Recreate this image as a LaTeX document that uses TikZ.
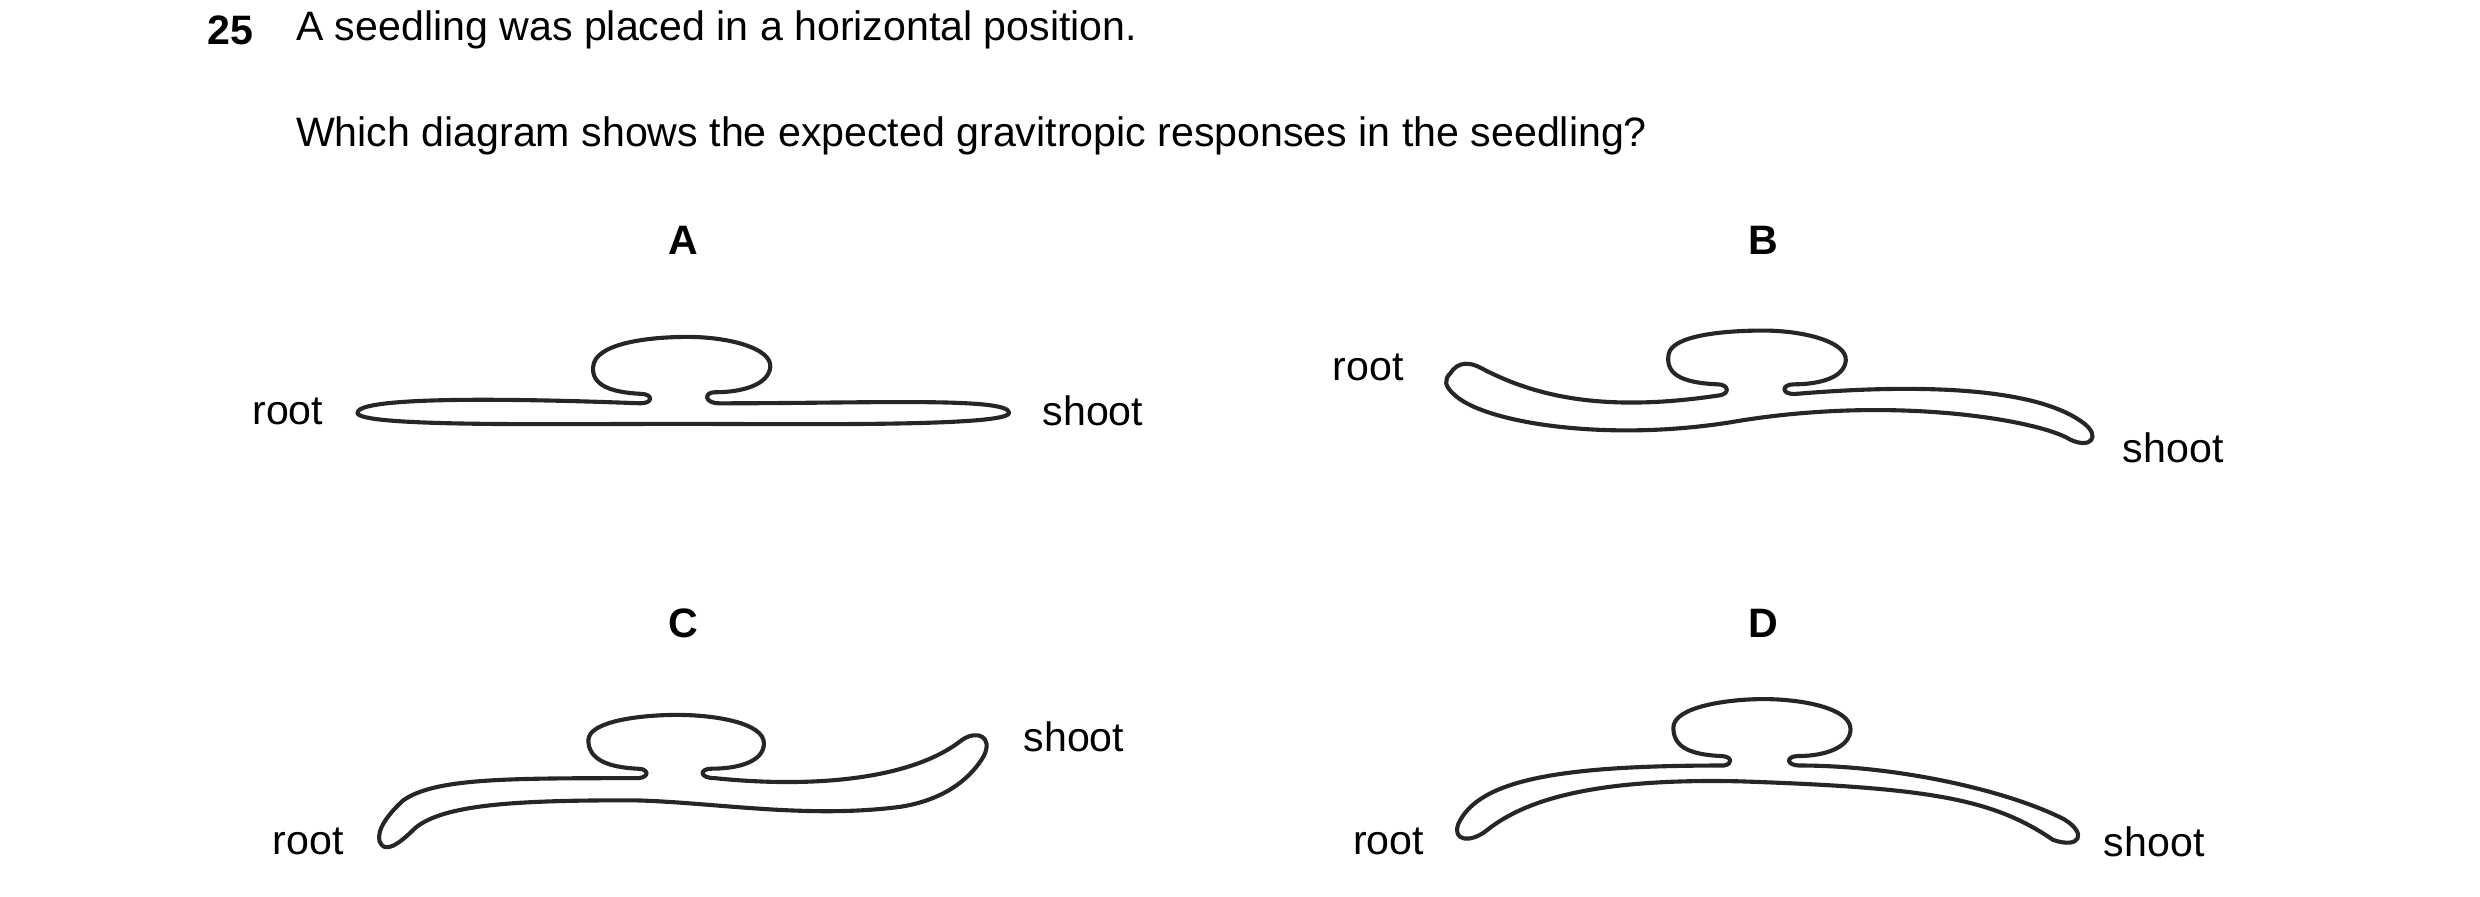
\documentclass[tikz,border=0pt]{standalone}
\usepackage{fontspec}
\setmainfont{Liberation Sans}
\usetikzlibrary{positioning}
\tikzset{
  txt/.style={inner sep=0pt, font=\fontsize{26}{30}\selectfont},
  letter/.style={txt, font=\fontsize{26}{30}\selectfont\bfseries},
  plant/.style={line width=2.6pt, line join=round, color=black!85}
}
\begin{document}
\begin{tikzpicture}[x=1pt,y=-1pt]
\useasboundingbox (0,0) rectangle (1568,567);

% Question
\node[letter, anchor=west] (num) at (131,19) {25};
\node[txt, anchor=west] (q1) at (187,19) {A seedling was placed in a horizontal position.};
\node[txt, anchor=west] (q2) at (187,86) {Which diagram shows the expected gravitropic responses in the seedling?};

% Option letters
\node[letter] (lA) at (432,152) {A};
\node[letter] (lB) at (1115,152) {B};
\node[letter] (lC) at (432,394) {C};
\node[letter] (lD) at (1115,394) {D};

% Seedling A
\draw[plant] (226,261) .. controls (226,252) and (300,251) .. (405,255) .. controls (413,255) and (413,249) .. (405,249)
  .. controls (385,248) and (374,243) .. (375,232) .. controls (376,217) and (410,213) .. (435,213)
  .. controls (460,213) and (488,220) .. (487,232) .. controls (486,243) and (470,248) .. (452,248)
  .. controls (445,248) and (445,255) .. (455,255) .. controls (550,255) and (638,251) .. (638,261)
  .. controls (638,270) and (500,268) .. (430,268) .. controls (350,268) and (226,270) .. cycle;
\node[txt] (rootA) at (182,260) {root};
\node[txt] (shootA) at (691,260) {shoot};

% Seedling B
\draw[plant] (917,236) .. controls (922,228) and (930,229) .. (937,233) .. controls (975,253) and (1020,260) .. (1087,250)
  .. controls (1094,249) and (1093,243) .. (1086,243) .. controls (1062,242) and (1053,236) .. (1055,224)
  .. controls (1057,212) and (1090,209) .. (1115,209) .. controls (1140,209) and (1168,216) .. (1167,228)
  .. controls (1166,239) and (1150,243) .. (1134,243) .. controls (1126,243) and (1126,250) .. (1136,249)
  .. controls (1220,242) and (1290,246) .. (1318,268) .. controls (1328,276) and (1322,284) .. (1309,278)
  .. controls (1290,266) and (1200,250) .. (1100,266) .. controls (1020,280) and (940,268) .. (920,250)
  .. controls (913,244) and (913,240) .. cycle;
\node[txt] (rootB) at (865,232) {root};
\node[txt] (shootB) at (1374,283) {shoot};

% Seedling C
\draw[plant] (404,492) .. controls (411,491) and (410,486) .. (403,486) .. controls (382,485) and (372,479) .. (372,468)
  .. controls (372,456) and (405,452) .. (428,452) .. controls (452,452) and (483,457) .. (483,470)
  .. controls (483,481) and (468,486) .. (450,486) .. controls (442,486) and (442,492) .. (452,492)
  .. controls (510,498) and (575,494) .. (608,468) .. controls (618,461) and (628,466) .. (622,478)
  .. controls (615,490) and (600,505) .. (570,510) .. controls (510,518) and (450,507) .. (400,506)
  .. controls (330,506) and (280,508) .. (262,524) .. controls (252,534) and (243,540) .. (240,532)
  .. controls (238,525) and (245,515) .. (255,506) .. controls (275,492) and (320,492) .. cycle;
\node[txt] (rootC) at (195,532) {root};
\node[txt] (shootC) at (679,466) {shoot};

% Seedling D
\draw[plant] (1090,484) .. controls (1096,483) and (1095,478) .. (1088,478) .. controls (1066,477) and (1058,471) .. (1058,460)
  .. controls (1058,447) and (1092,442) .. (1115,442) .. controls (1140,442) and (1170,448) .. (1170,461)
  .. controls (1170,472) and (1155,478) .. (1137,478) .. controls (1129,478) and (1129,484) .. (1138,484)
  .. controls (1200,484) and (1270,500) .. (1305,518) .. controls (1320,527) and (1315,537) .. (1298,531)
  .. controls (1260,505) and (1220,498) .. (1100,494) .. controls (1010,492) and (965,505) .. (940,525)
  .. controls (930,533) and (918,532) .. (922,521) .. controls (935,492) and (990,484) .. cycle;
\node[txt] (rootD) at (878,532) {root};
\node[txt] (shootD) at (1362,532) {shoot};
\end{tikzpicture}
\end{document}
